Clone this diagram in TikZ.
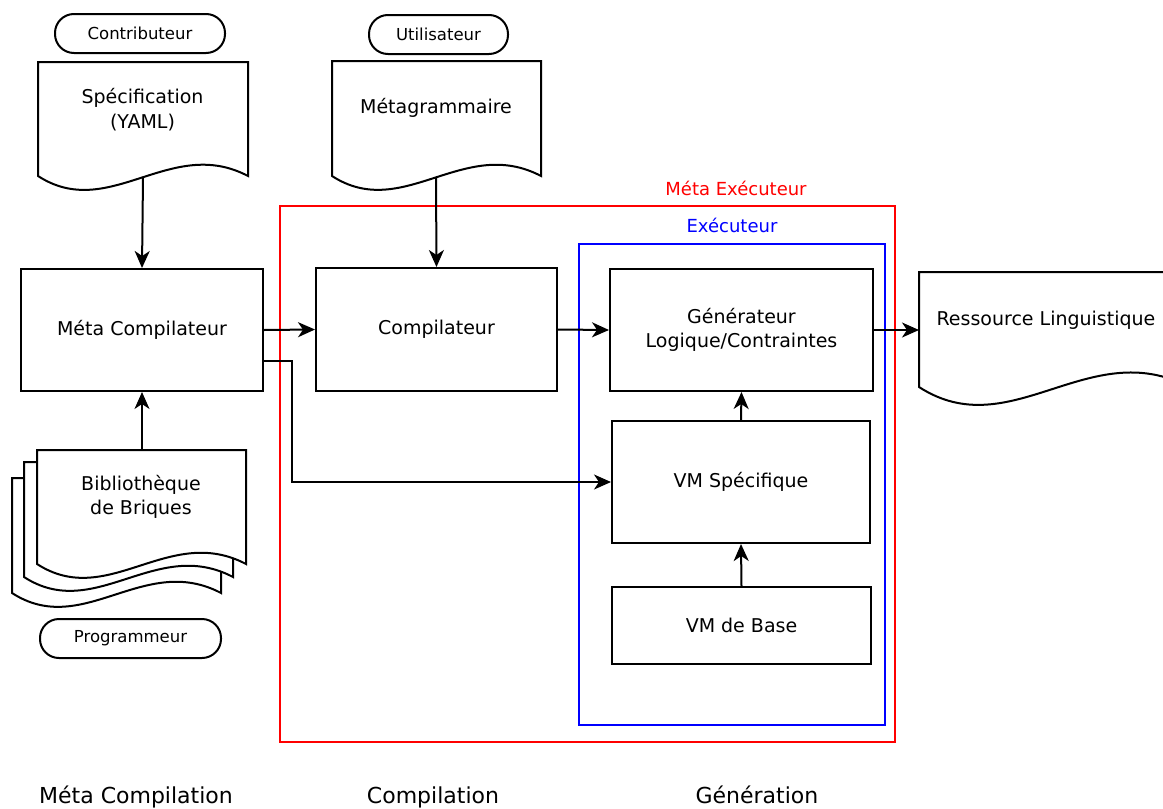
\documentclass[tikz,border=0pt]{standalone}
\usepackage{fontspec}
\setmainfont{DejaVu Sans}
\usetikzlibrary{arrows.meta,calc}
\newcommand{\docshape}[5][]{%
  \draw[line width=2pt, fill=white, #1] (#2,#3) -- ({#2+#4},#3) -- ({#2+#4},{#3+#5})
    .. controls ({#2+0.63*#4},{#3+#5-0.195*#4}) and ({#2+0.34*#4},{#3+#5+0.22*#4}) ..
    (#2,{#3+#5}) -- cycle;}
\begin{document}
\begin{tikzpicture}[x=1pt,y=-1pt,
  box/.style={draw, rectangle, line width=2pt, font=\fontsize{19}{24}\selectfont, align=center, inner sep=0pt},
  pill/.style={draw, rectangle, line width=2pt, rounded corners=19pt, minimum height=39pt, font=\fontsize{16.5}{20}\selectfont, inner sep=0pt},
  lbl/.style={font=\fontsize{19}{24.5}\selectfont, align=center},
  grp/.style={draw, rectangle, line width=2pt, inner sep=0pt},
  grplbl/.style={font=\fontsize{18}{22}\selectfont},
  phase/.style={font=\fontsize{22}{26}\selectfont, anchor=base},
  arr/.style={-{Stealth[length=17pt,width=15pt,inset=5pt]}, line width=2pt},
]
\useasboundingbox (0,0) rectangle (1163,809);
\clip (0,0) rectangle (1163,809);

% groups
\node[grp, draw=red, minimum width=615pt, minimum height=536pt] (metaexec) at (587.5,474) {};
\node[grplbl, text=red] (metaexeclbl) at (736,188) {Méta Exécuteur};
\node[grp, draw=blue, minimum width=306pt, minimum height=481pt] (exec) at (732,484.5) {};
\node[grplbl, text=blue] (execlbl) at (732,225) {Exécuteur};

% actors
\node[pill, minimum width=170pt] (contrib) at (140,33.5) {Contributeur};
\node[pill, minimum width=139pt] (util) at (438.5,34.5) {Utilisateur};
\node[pill, minimum width=181pt] (prog) at (130.5,638.5) {Programmeur};

% documents
\docshape{38}{62}{210}{114}
\node[lbl] (spec) at (142.5,109.5) {Spécification\\(YAML)};
\coordinate (specb) at (143,178);

\docshape{332}{61}{209}{115}
\node[lbl] (metag) at (436,108) {Métagrammaire};
\coordinate (metagb) at (436,178);

\docshape{12}{478}{209}{115}
\docshape{24}{462}{209}{115}
\docshape{37}{450}{209}{114}
\node[lbl] (bib) at (141,497) {Bibliothèque\\de Briques};
\coordinate (bibt) at (142,450);

\docshape{919}{272}{270}{115}
\node[lbl] (res) at (1046,320) {Ressource Linguistique};
\coordinate (resw) at (919,330);

% boxes
\node[box, minimum width=242pt, minimum height=122pt] (metacomp) at (142,330) {Méta Compilateur};
\node[box, minimum width=241pt, minimum height=123pt] (compil) at (436.5,329.5) {Compilateur};
\node[box, minimum width=263pt, minimum height=122pt] (gen) at (741.5,330) {Générateur\\Logique/Contraintes};
\node[box, minimum width=258pt, minimum height=122pt] (vmspec) at (741,482) {VM Spécifique};
\node[box, minimum width=259pt, minimum height=77pt] (vmbase) at (741.5,625.5) {VM de Base};

% connectors
\draw[arr] (specb) -- (metacomp.north);
\draw[arr] (metagb) -- (compil.north);
\draw[arr] (bibt) -- (metacomp.south);
\draw[arr] (metacomp.east) -- (compil.west);
\draw[arr] (compil.east) -- (gen.west);
\draw[arr] ($(metacomp.east)+(0,31)$) -- ++(28,0) |- (vmspec.west);
\draw[arr] (gen.east) -- (resw);
\draw[arr] (vmspec.north) -- (gen.south);
\draw[arr] (vmbase.north) -- (vmspec.south);

% phases
\node[phase] (ph1) at (136,803) {Méta Compilation};
\node[phase] (ph2) at (433,803) {Compilation};
\node[phase] (ph3) at (757,803) {Génération};
\end{tikzpicture}
\end{document}
